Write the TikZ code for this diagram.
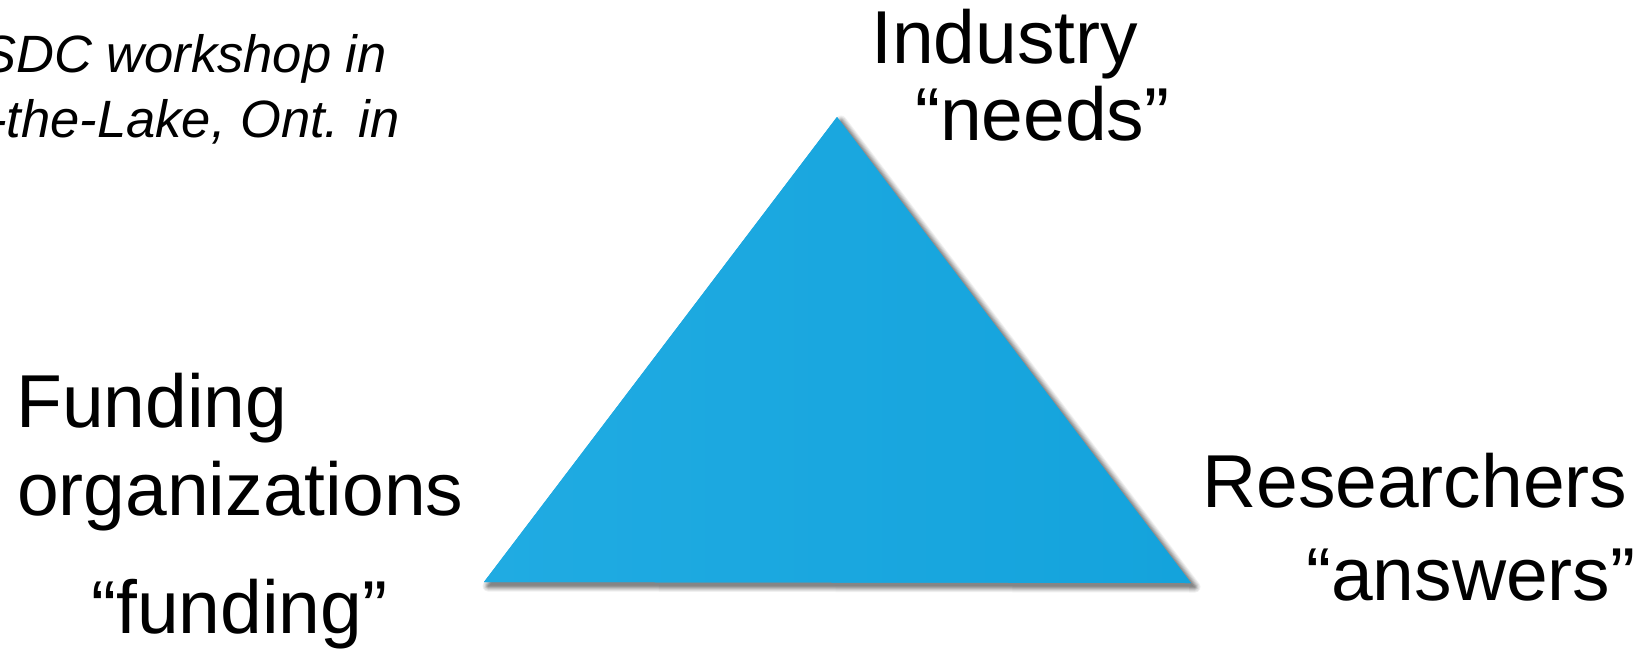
\documentclass[tikz,border=0pt]{standalone}
\usepackage{fontspec}
\setmainfont{Liberation Sans}
\definecolor{triL}{RGB}{32,171,226}
\definecolor{triR}{RGB}{20,163,220}
\begin{document}
\begin{tikzpicture}[x=1pt,y=-1pt,
  lbl/.style={inner sep=0pt, anchor=base west, font=\fontsize{75}{86}\selectfont},
  note/.style={inner sep=0pt, anchor=base east, font=\fontsize{52.5}{63}\selectfont\itshape}]
\useasboundingbox (0,0) rectangle (1641,648);
\clip (0,0) rectangle (1641,648);
\fill[white] (0,0) rectangle (1641,648);
\coordinate (apex) at (837,117);
\coordinate (bl) at (484,582);
\coordinate (br) at (1191,583);
% soft drop shadow: offset copy, blurred with opaque grey rings (widest and lightest first)
\foreach \w/\g in {11/6,9/12,7/19,5/27,3/35,1/43}{
  \filldraw[draw=black!\g, fill=black!48, line width=\w pt, line join=round]
    ([shift={(4,4)}]apex) -- ([shift={(4,4)}]br) -- ([shift={(4,4)}]bl) -- cycle;
}
% triangle
\fill[triL] (apex) -- (br) -- (bl) -- cycle;
\shade[left color=triL, right color=triR] (apex) -- (br) -- (bl) -- cycle;
% labels
\node[lbl] (ind) at (871,63) {Industry};
\node[lbl] (needs) at (915,140) {“needs”};
\node[lbl] (fund) at (16,427) {Funding};
\node[lbl] (org) at (17,515) {organizations};
\node[lbl] (fq) at (91,633) {“funding”};
\node[lbl] (res) at (1202,507) {Researchers};
\node[lbl] (ans) at (1306,600) {“answers”};
\node[note] (n1) at (387,72) {SDC workshop in};
\node[note] (n2) at (400,137) {-the-Lake, Ont. in};
\end{tikzpicture}
\end{document}
